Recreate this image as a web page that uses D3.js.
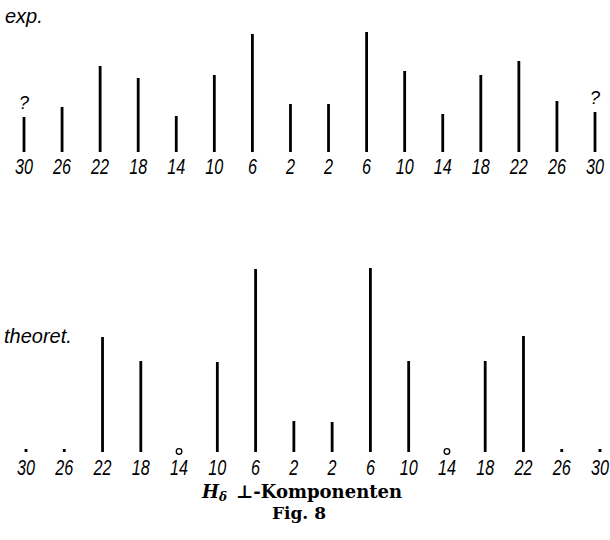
<!DOCTYPE html>
<html><head><meta charset="utf-8">
<script src="https://cdn.jsdelivr.net/npm/d3@7"></script>
<style>body{margin:0;background:#fff}</style>
</head><body>
<script>
// Data
const categories = ["30","26","22","18","14","10","6","2","2","6","10","14","18","22","26","30"];
const expValues  = [35,45,86,74,36,77,118,48,48,120,81,38,77,91,51,40];
const theoValues = [3,3,115,91,0,90,183,31,30,184,91,0,91,116,3,3];
const expUncertain = [true,false,false,false,false,false,false,false,false,false,false,false,false,false,false,true];
const theoZero = [false,false,false,false,true,false,false,false,false,false,false,true,false,false,false,false];

const W = 610, H = 540;
const svg = d3.select("body").append("svg").attr("width", W).attr("height", H);

const idx = d3.range(categories.length);
const xTop = d3.scalePoint().domain(idx).range([24, 595]);
const xBot = d3.scalePoint().domain(idx).range([26, 600]);
const yTop = d3.scaleLinear().domain([0, 120]).range([152, 32]);
const yBot = d3.scaleLinear().domain([0, 184]).range([452, 268]);

const labelFont = "'Liberation Sans', Arial, sans-serif";

function panel(x, y, values, labelY, g) {
  g.selectAll("line.bar").data(idx).join("line")
    .attr("class", "bar")
    .attr("x1", i => x(i)).attr("x2", i => x(i))
    .attr("y1", y(0)).attr("y2", i => y(values[i]))
    .attr("stroke", "#000").attr("stroke-width", 2.8);
  g.selectAll("text.lab").data(idx).join("text")
    .attr("class", "lab")
    .attr("x", i => x(i)).attr("y", labelY)
    .attr("text-anchor", "middle")
    .attr("font-family", labelFont).attr("font-style", "italic")
    .attr("font-size", 18)
    .attr("transform", i => `translate(${x(i)},${labelY}) scale(0.9,1.2) translate(${-x(i)},${-labelY})`)
    .text(i => categories[i]);
}

const gTop = svg.append("g");
panel(xTop, yTop, expValues, 174, gTop);
gTop.selectAll("text.q").data(idx.filter(i => expUncertain[i])).join("text")
  .attr("class", "q")
  .attr("x", i => xTop(i)).attr("y", i => yTop(expValues[i]) - 8)
  .attr("text-anchor", "middle")
  .attr("font-family", labelFont).attr("font-style", "italic").attr("font-size", 18)
  .text("?");

const gBot = svg.append("g");
panel(xBot, yBot, theoValues, 475, gBot);
gBot.selectAll("circle.zero").data(idx.filter(i => theoZero[i])).join("circle")
  .attr("class", "zero")
  .attr("cx", i => xBot(i)).attr("cy", yBot(0) - 0.5)
  .attr("r", 2.8).attr("fill", "none").attr("stroke", "#000").attr("stroke-width", 1.3);

svg.append("text").attr("x", 5).attr("y", 23)
  .attr("font-family", labelFont).attr("font-style", "italic").attr("font-size", 20)
  .text("exp.");
svg.append("text").attr("x", 4).attr("y", 343)
  .attr("font-family", labelFont).attr("font-style", "italic").attr("font-size", 20)
  .text("theoret.");

const serif = "'DejaVu Serif', 'Liberation Serif', serif";
const t = svg.append("text").attr("x", 302).attr("y", 498)
  .attr("text-anchor", "middle").attr("font-family", serif)
  .attr("font-weight", "bold").attr("font-size", 18);
t.append("tspan").attr("font-style", "italic").text("H");
t.append("tspan").attr("font-style", "italic").attr("font-size", 12).attr("dy", 3).text("δ");
t.append("tspan").attr("dy", -3).text("\u2002\u22A5-Komponenten");
svg.append("text").attr("x", 299).attr("y", 519)
  .attr("text-anchor", "middle").attr("font-family", serif)
  .attr("font-weight", "bold").attr("font-size", 17)
  .text("Fig. 8");
</script>
</body></html>
